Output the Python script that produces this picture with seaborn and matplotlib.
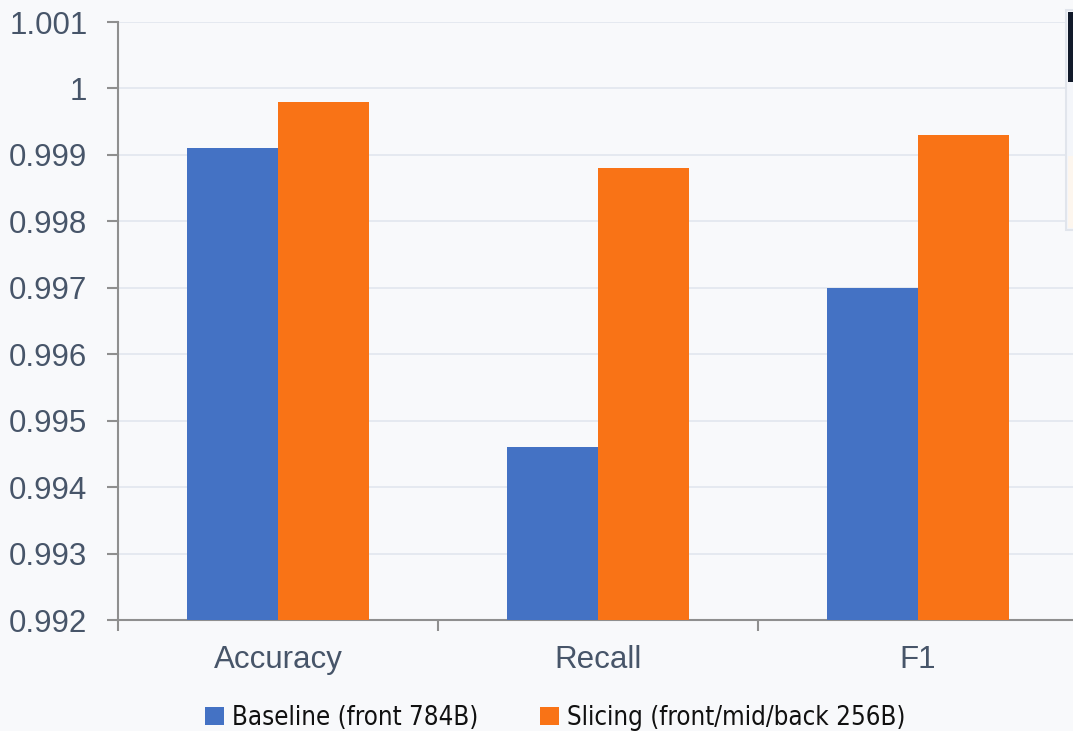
import matplotlib
matplotlib.use("Agg")
import matplotlib.pyplot as plt
from matplotlib import font_manager
from matplotlib.patches import Rectangle
import seaborn as sns
import pandas as pd

metrics = ["Accuracy", "Recall", "F1"]
series_names = ["Baseline (front 784B)", "Slicing (front/mid/back 256B)"]
baseline_vals = [0.9991, 0.9946, 0.9970]
slicing_vals = [0.9998, 0.9988, 0.9993]
y_ticks = [0.992, 0.993, 0.994, 0.995, 0.996, 0.997, 0.998, 0.999, 1.0, 1.001]
y_tick_labels = ["0.992", "0.993", "0.994", "0.995", "0.996", "0.997", "0.998", "0.999", "1", "1.001"]
colors = ["#4472c4", "#f97316"]

df = pd.DataFrame({
    "metric": metrics * 2,
    "series": [series_names[0]] * 3 + [series_names[1]] * 3,
    "value": baseline_vals + slicing_vals,
})

sns.set_theme(style="white")
bg = "#f8f9fb"
plt.rcParams["font.family"] = ["Liberation Sans", "DejaVu Sans"]

fig = plt.figure(figsize=(10.73, 7.31), dpi=100, facecolor=bg)
ax = fig.add_axes([118 / 1073, 1 - 620 / 731, 960 / 1073, 598 / 731])
ax.set_facecolor(bg)

sns.barplot(data=df, x="metric", y="value", hue="series", palette=colors,
            width=0.57, gap=0, saturation=1, linewidth=0, ax=ax,
            legend=False, zorder=3)

ax.set_xlim(-0.5, 2.5)
ax.set_ylim(0.992, 1.001)
ax.set_yticks(y_ticks)
ax.set_yticklabels(y_tick_labels)
ax.grid(axis="y", color="#e2e6ee", linewidth=1.2, zorder=0)
ax.set_axisbelow(True)

tick_color = "#475569"
spine_color = "#8f8f8f"
ax.tick_params(axis="y", which="major", length=8, width=1.5, color=spine_color,
               labelsize=22.5, labelcolor=tick_color, pad=14, left=True)
ax.tick_params(axis="x", which="major", length=0, labelsize=22.5,
               labelcolor=tick_color, pad=18)
ax.set_xticks([-0.5, 0.5, 1.5], minor=True)
ax.tick_params(axis="x", which="minor", length=8, width=1.5, color=spine_color,
               bottom=True)
ax.set_xlabel("")
ax.set_ylabel("")

for side in ["top", "right"]:
    ax.spines[side].set_visible(False)
for side in ["left", "bottom"]:
    ax.spines[side].set_color(spine_color)
    ax.spines[side].set_linewidth(1.5)

# legend below the plot
handles = [Rectangle((0, 0), 1, 1, facecolor=c, edgecolor="none") for c in colors]
leg = fig.legend(handles, series_names, loc="center",
                 bbox_to_anchor=(555 / 1073, 1 - 718 / 731),
                 ncol=2, frameon=False, handlelength=0.75, handleheight=0.75,
                 handletextpad=0.3, columnspacing=2.4,
                 prop={"family": "DejaVu Sans", "stretch": "condensed", "size": 18.5})
for t in leg.get_texts():
    t.set_color("#111111")

# clipped tooltip panel at the right edge
fig.patches.append(Rectangle((1066 / 1073, 1 - 230 / 731), 10 / 1073, 220 / 731,
                             transform=fig.transFigure, facecolor="#f4f6fa",
                             edgecolor="#e1e5ec", linewidth=1.5, zorder=5))
fig.patches.append(Rectangle((1068 / 1073, 1 - 82 / 731), 8 / 1073, 70 / 731,
                             transform=fig.transFigure, facecolor="#111a2a",
                             edgecolor="none", zorder=6))
fig.patches.append(Rectangle((1068 / 1073, 1 - 228 / 731), 8 / 1073, 72 / 731,
                             transform=fig.transFigure, facecolor="#fdf6ee",
                             edgecolor="none", zorder=6))

fig.savefig("out.png", dpi=100, facecolor=bg)
